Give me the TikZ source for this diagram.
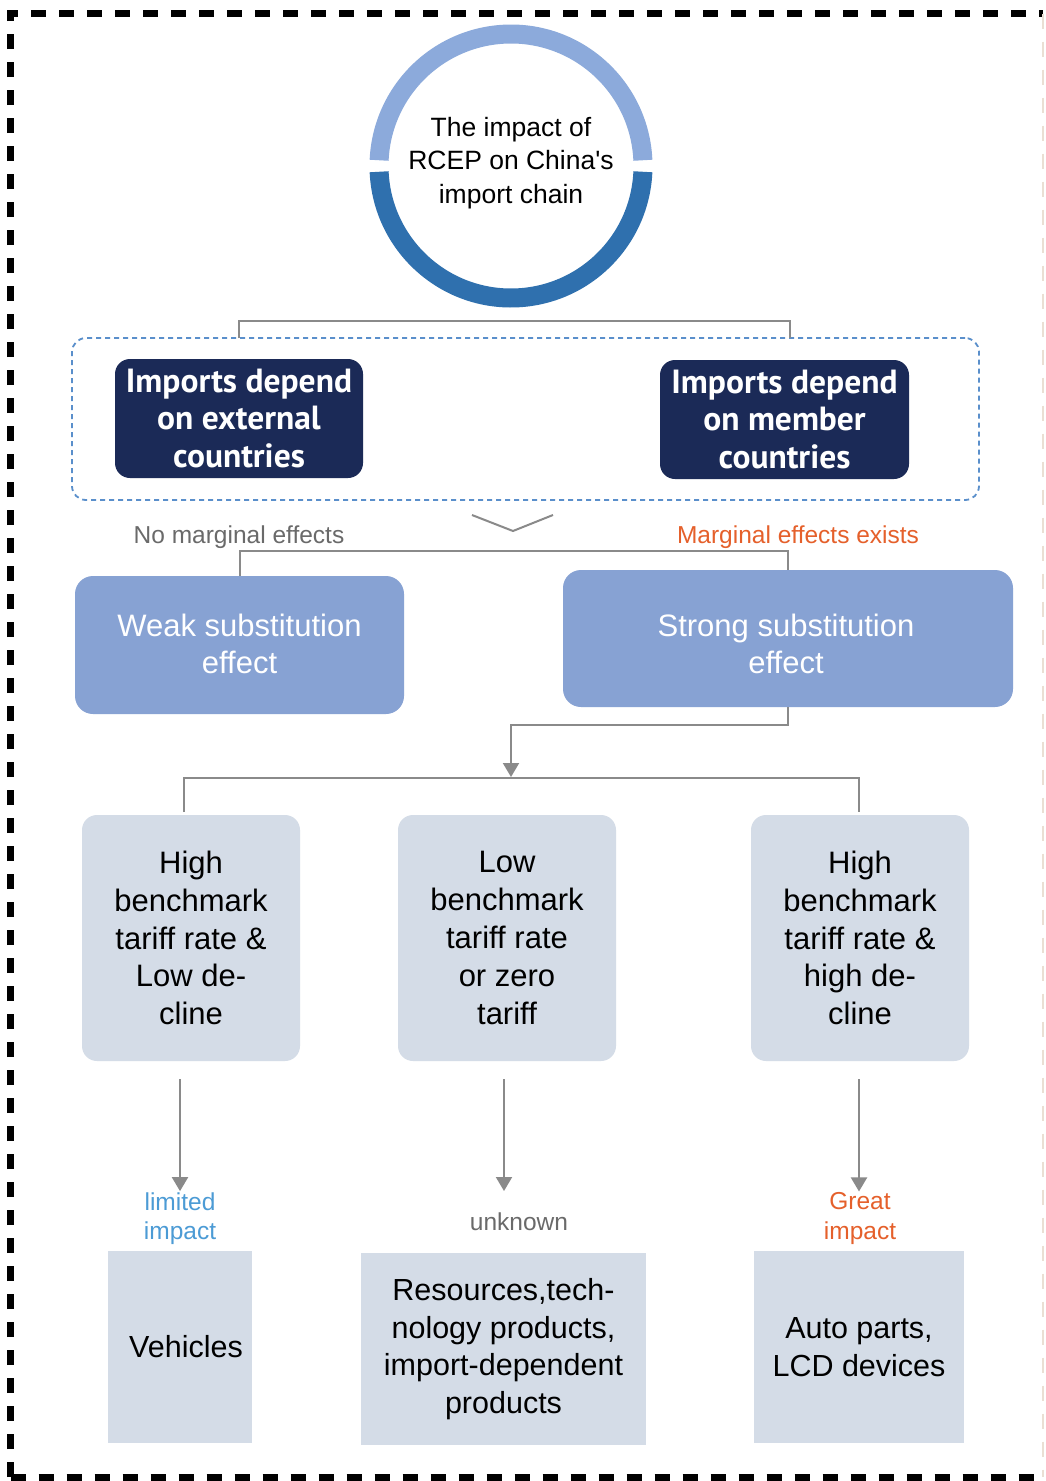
\documentclass[tikz,border=0pt]{standalone}
\usepackage{fontspec}
\setmainfont{Liberation Sans}
\newfontfamily\boldf{PT Sans}
\usetikzlibrary{arrows.meta,calc}
\definecolor{navy}{HTML}{1B2A57}
\definecolor{boxblue}{HTML}{87A2D3}
\definecolor{boxgray}{HTML}{D4DCE7}
\definecolor{ringtop}{HTML}{8CAADB}
\definecolor{ringbot}{HTML}{2F70AE}
\definecolor{dashblue}{HTML}{5A8FCB}
\definecolor{linegray}{HTML}{8A8A8A}
\definecolor{orangetxt}{HTML}{E5602B}
\definecolor{bluetxt}{HTML}{4C9BD5}
\definecolor{graytxt}{HTML}{6A6A6A}
\definecolor{faint}{HTML}{EADFD4}
\newcommand{\straightquote}{\XeTeXglyph\XeTeXcharglyph"27\relax}
\begin{document}
\begin{tikzpicture}[x=1pt,y=1pt,
  conn/.style={draw=linegray, line width=2pt},
  arr/.style={conn, -{Triangle[width=16pt,length=14pt]}},
  darkbox/.style={fill=navy, rounded corners=15pt, minimum width=248pt, minimum height=119pt, text=white, align=center, inner sep=0pt,
     font=\boldf\bfseries\fontsize{33.5}{37.5}\selectfont},
  effbox/.style={fill=boxblue, rounded corners=18pt, minimum height=138pt, inner sep=0pt},
  efftext/.style={text=white, align=center, inner sep=0pt, font=\fontsize{31}{37}\selectfont},
  tarbox/.style={fill=boxgray, rounded corners=15pt, minimum width=218pt, minimum height=246pt, align=center, inner sep=0pt,
     font=\fontsize{31}{37.8}\selectfont},
  prodbox/.style={fill=boxgray, minimum height=192pt, align=center, inner sep=0pt,
     font=\fontsize{30.5}{37.8}\selectfont},
  smalllbl/.style={align=center, inner sep=1pt, font=\fontsize{24.5}{29.5}\selectfont}
]
\useasboundingbox (0,0) rectangle (1045,-1481);
\fill[white] (0,0) rectangle (1045,-1481);
% frame
\draw[black, line width=7pt, dash pattern=on 15pt off 13pt] (10.5,-1477) -- (10.5,-13.5) -- (1043,-13.5);
\draw[black, line width=7pt, dash pattern=on 15pt off 13pt] (10.5,-1477) -- (1043,-1477);
\draw[faint, line width=1.5pt, dash pattern=on 15pt off 13pt] (1043,-13.5) -- (1043,-1477);

% central ring
\node[circle, minimum size=264pt, inner sep=0pt, align=center, font=\fontsize{26.5}{33.5}\selectfont] (core) at (511,-163)
  {The impact of\\RCEP on China\straightquote s\\import chain};
\draw[ringtop, line width=19pt] ($(511,-166)+(2.5:132)$) arc[start angle=2.5, end angle=177.5, radius=132pt];
\draw[ringbot, line width=19pt] ($(511,-166)+(182.5:132)$) arc[start angle=182.5, end angle=357.5, radius=132pt];

% dashed group
\node[draw=dashblue, line width=1.8pt, dash pattern=on 5pt off 4pt, rounded corners=14pt, minimum width=907pt, minimum height=162pt] (grp) at (525.5,-419) {};
\node[darkbox] (ext) at (239,-418.5) {Imports depend\\on external\\countries};
\node[darkbox, minimum width=249pt] (mem) at (784.5,-419.5) {Imports depend\\on member\\countries};
\coordinate (bl) at (239,-338);
\coordinate (br) at (790,-338);
\draw[conn] (bl) -- ++(0,17) -| (br);

% chevron
\coordinate (cv1) at (472,-515);
\coordinate (cv2) at (513,-531);
\coordinate (cv3) at (553,-515);
\draw[conn] (cv1) -- (cv2) -- (cv3);

\node[smalllbl, text=graytxt] (nme) at (239,-537) {No marginal effects};
\node[smalllbl, text=orangetxt] (mee) at (798,-537) {Marginal effects exists};

% substitution boxes
\node[effbox, minimum width=329pt] (weak) at (239.5,-645) {};
\node[efftext] (weaktxt) at (239.5,-643.5) {Weak substitution\\effect};
\node[effbox, minimum width=450pt, minimum height=137pt] (strong) at (788,-638.5) {};
\node[efftext] (strongtxt) at (786,-643.5) {Strong substitution\\effect};
\draw[conn] (weak.north) -- ++(0,25) -| (strong.north);

% tariff boxes
\node[tarbox] (t1) at (191,-938) {High\\benchmark\\tariff rate \&\\Low de-\\cline};
\node[tarbox] (t2) at (507,-938) {Low\\benchmark\\tariff rate\\or zero\\tariff};
\node[tarbox] (t3) at (860,-938) {High\\benchmark\\tariff rate \&\\high de-\\cline};

\coordinate (split) at (511,-777);
\draw[arr] (strong.south) -- ++(0,-18) -| (split);
\coordinate (s1) at (184,-812);
\coordinate (s3) at (859,-812);
\draw[conn] (s1) -- ++(0,34) -| (s3);

% impact labels
\node[smalllbl, text=bluetxt] (lim) at (180,-1218.5) {limited\\impact};
\node[smalllbl, text=graytxt] (unk) at (519,-1222) {unknown};
\node[smalllbl, text=orangetxt] (grt) at (860,-1218.5) {Great\\impact};

\coordinate (a1) at (180,-1079);
\coordinate (a2) at (504,-1079);
\coordinate (a3) at (859,-1079);
\coordinate (e2) at (504,-1191);
\draw[arr] (a1) -- (a1 |- lim.north);
\draw[arr] (a2) -- (e2);
\draw[arr] (a3) -- (a3 |- grt.north);

% product boxes
\node[prodbox, minimum width=144pt] (p1) at (180,-1347) {};
\node[align=center, inner sep=0pt, font=\fontsize{30.5}{37.8}\selectfont] (p1txt) at (186,-1347) {Vehicles};
\node[prodbox, minimum width=285pt] (p2) at (503.5,-1349) {Resources,tech-\\nology products,\\import-dependent\\products};
\node[prodbox, minimum width=210pt] (p3) at (859,-1347) {Auto parts,\\LCD devices};
\end{tikzpicture}
\end{document}
